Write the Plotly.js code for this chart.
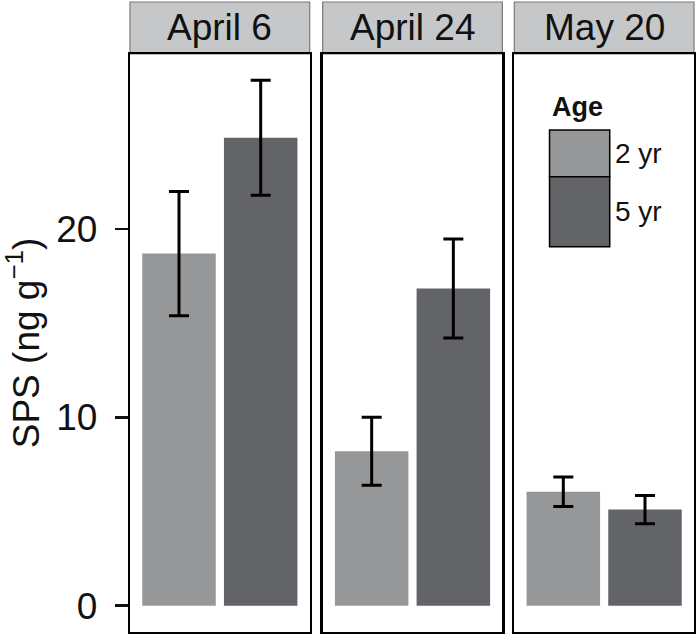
<!DOCTYPE html>
<html>
<head>
<meta charset="utf-8">
<script src="https://cdn.plot.ly/plotly-3.0.1.min.js"></script>
<style>
  html, body { margin: 0; padding: 0; background: #fff; }
  #chart { width: 700px; height: 636px; }
</style>
</head>
<body>
<div id="chart"></div>
<script>
// facet labels, groups and values
const dates = ['April 6', 'April 24', 'May 20'];
const ages = ['2 yr', '5 yr'];
const sps2yr = [18.7, 8.2, 6.05];
const sps5yr = [24.85, 16.85, 5.1];
const se2yr = [3.3, 1.8, 0.78];
const se5yr = [3.05, 2.63, 0.75];
const ageColors = ['#969799', '#636467'];

const font = '"Liberation Sans", Arial, Helvetica, sans-serif';
const domains = [[0, 0.3186], [0.3416, 0.6602], [0.6814, 1]];
const stripTop = 1 + 52 / 578;

const traces = dates.map(function(d, i) {
    const n = i === 0 ? '' : String(i + 1);
    return {
        type: 'bar',
        x: ages,
        y: [sps2yr[i], sps5yr[i]],
        xaxis: 'x' + n,
        yaxis: 'y' + n,
        marker: { color: ageColors, line: { width: 0 } },
        error_y: {
            type: 'data',
            array: [se2yr[i], se5yr[i]],
            visible: true,
            color: '#000',
            thickness: 3,
            width: 10
        },
        showlegend: false,
        hoverinfo: 'skip'
    };
});

const layout = {
    width: 700,
    height: 636,
    margin: { l: 130, r: 6, t: 54, b: 4 },
    paper_bgcolor: '#fff',
    plot_bgcolor: '#fff',
    bargap: 0.1,
    font: { family: font, color: '#111' },
    showlegend: false,
    shapes: [],
    annotations: []
};

dates.forEach(function(d, i) {
    const n = i === 0 ? '' : String(i + 1);
    layout['xaxis' + n] = {
        domain: domains[i],
        anchor: 'y' + n,
        type: 'category',
        range: [-0.6, 1.6],
        showticklabels: false,
        ticks: '',
        showgrid: false,
        zeroline: false,
        showline: true,
        mirror: true,
        linecolor: '#000',
        linewidth: 2.2,
        fixedrange: true
    };
    const yax = {
        anchor: 'x' + n,
        domain: [0, 1],
        range: [-1.4, 29.3],
        showgrid: false,
        zeroline: false,
        showline: true,
        mirror: true,
        linecolor: '#000',
        linewidth: 2.2,
        fixedrange: true
    };
    if (i === 0) {
        yax.tickvals = [0, 10, 20];
        yax.ticks = 'outside';
        yax.ticklen = 13;
        yax.tickwidth = 2.6;
        yax.tickcolor = '#111';
        yax.ticklabelstandoff = 10;
        yax.tickfont = { size: 37, family: font, color: '#111' };
        yax.title = {
            text: 'SPS (ng g<sup>\u22121</sup>)',
            font: { size: 37, family: font, color: '#111' },
            standoff: 18
        };
    } else {
        yax.showticklabels = false;
        yax.ticks = '';
    }
    layout['yaxis' + n] = yax;

    // facet strip
    layout.shapes.push({
        type: 'rect',
        xref: 'paper', yref: 'paper',
        x0: domains[i][0], x1: domains[i][1],
        y0: 1, y1: stripTop,
        fillcolor: '#c6c7c9',
        line: { color: '#7a7a7a', width: 1.2 },
        layer: 'below'
    });
    layout.annotations.push({
        xref: 'paper', yref: 'paper',
        x: (domains[i][0] + domains[i][1]) / 2,
        y: (1 + stripTop) / 2,
        text: d,
        showarrow: false,
        xanchor: 'center', yanchor: 'middle',
        font: { size: 37, family: font, color: '#111' }
    });
});

// legend drawn inside the May 20 panel
const keyBox = [[0.8685, 0.7878], [0.7878, 0.6666]];
layout.annotations.push({
    xref: 'x3 domain', yref: 'y3 domain',
    x: 0.2, y: 0.908,
    text: '<b>Age</b>',
    showarrow: false,
    xanchor: 'left', yanchor: 'middle',
    font: { size: 27, family: font, color: '#111' }
});
ages.forEach(function(a, k) {
    layout.shapes.push({
        type: 'rect',
        xref: 'x3 domain', yref: 'y3 domain',
        x0: 0.196, x1: 0.531,
        y0: keyBox[k][1], y1: keyBox[k][0],
        fillcolor: ageColors[k],
        line: { color: '#000', width: 1.5 }
    });
    layout.annotations.push({
        xref: 'x3 domain', yref: 'y3 domain',
        x: 0.55, y: (keyBox[k][0] + keyBox[k][1]) / 2,
        text: a,
        showarrow: false,
        xanchor: 'left', yanchor: 'middle',
        font: { size: 28, family: font, color: '#111' }
    });
});

Plotly.newPlot('chart', traces, layout, { staticPlot: true });
</script>
</body>
</html>
